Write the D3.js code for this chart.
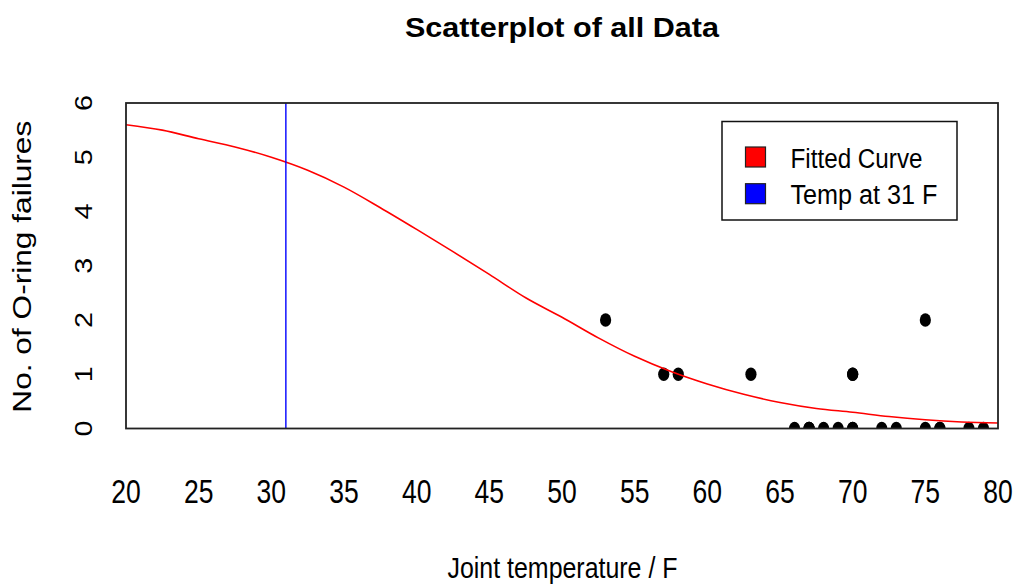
<!DOCTYPE html>
<html>
<head>
<meta charset="utf-8">
<script src="https://cdn.jsdelivr.net/npm/d3@7"></script>
<style>
  body { margin: 0; background: #ffffff; }
  text { font-family: "Liberation Sans", Arial, sans-serif; fill: #000; }
</style>
</head>
<body>
<div id="chart"></div>
<script>
// O-ring data (temperature F, number of failures)
var temps    = [66, 70, 69, 68, 67, 72, 73, 70, 57, 63, 70, 78, 67, 53, 67, 75, 70, 81, 76, 79, 75, 76, 58];
var failures = [ 0,  1,  0,  0,  0,  0,  0,  0,  1,  1,  1,  0,  0,  2,  0,  0,  0,  0,  0,  0,  2,  0,  1];

// fitted curve
var curveX = [20, 22.5, 25, 27.5, 30, 32.5, 35, 37.5, 40, 42.5, 45, 47.5, 50, 52.5, 55, 57.5, 60, 62.5, 65, 67.5, 70, 72.5, 75, 77.5, 80];
var curveY = [5.60, 5.50, 5.34, 5.19, 5.00, 4.76, 4.45, 4.07, 3.67, 3.26, 2.84, 2.41, 2.05, 1.67, 1.33, 1.05, 0.82, 0.63, 0.48, 0.37, 0.30, 0.22, 0.16, 0.12, 0.10];

var xTicks = [20, 25, 30, 35, 40, 45, 50, 55, 60, 65, 70, 75, 80];
var yTicks = [0, 1, 2, 3, 4, 5, 6];
var tempLine = 31;
var legendItems = [{label: "Fitted Curve", color: "#ff0000"}, {label: "Temp at 31 F", color: "#0000ff"}];

var w = 1016, h = 586;
var svg = d3.select("#chart").append("svg").attr("width", w).attr("height", h).style("background", "#ffffff");

var x = d3.scaleLinear().domain([20, 80]).range([126, 998]);
var y = d3.scaleLinear().domain([0, 6]).range([428.5, 103]);

svg.append("clipPath").attr("id", "plotclip")
    .append("rect").attr("x", x(20)).attr("y", y(6)).attr("width", x(80) - x(20)).attr("height", y(0) - y(6));

var plot = svg.append("g").attr("clip-path", "url(#plotclip)");

// points
plot.selectAll("ellipse").data(d3.zip(temps, failures)).enter()
    .append("ellipse")
    .attr("cx", function (d) { return x(d[0]); })
    .attr("cy", function (d) { return y(d[1]); })
    .attr("rx", 5.6)
    .attr("ry", 6.8)
    .attr("fill", "#000");

// fitted curve
var line = d3.line()
    .x(function (d) { return x(d[0]); })
    .y(function (d) { return y(d[1]); })
    .curve(d3.curveMonotoneX);
plot.append("path")
    .datum(d3.zip(curveX, curveY))
    .attr("d", line)
    .attr("fill", "none")
    .attr("stroke", "#ff0000")
    .attr("stroke-width", 1.6);

// vertical line at 31 F
plot.append("line")
    .attr("x1", x(tempLine)).attr("x2", x(tempLine))
    .attr("y1", y(6)).attr("y2", y(0))
    .attr("stroke", "#0000ff")
    .attr("stroke-width", 1.4);

// box
svg.append("rect")
    .attr("x", x(20)).attr("y", y(6))
    .attr("width", x(80) - x(20)).attr("height", y(0) - y(6))
    .attr("fill", "none").attr("stroke", "#222").attr("stroke-width", 1.8);

// x tick labels
svg.selectAll(".xt").data(xTicks).enter()
    .append("text").attr("class", "xt")
    .attr("x", function (d) { return x(d); })
    .attr("y", 503)
    .attr("text-anchor", "middle")
    .attr("font-size", 33)
    .attr("textLength", 29.5)
    .attr("lengthAdjust", "spacingAndGlyphs")
    .text(function (d) { return d; });

// y tick labels (rotated)
svg.selectAll(".yt").data(yTicks).enter()
    .append("text").attr("class", "yt")
    .attr("transform", function (d) { return "translate(91.5," + y(d) + ") rotate(-90)"; })
    .attr("text-anchor", "middle")
    .attr("font-size", 23.5)
    .attr("textLength", 16)
    .attr("lengthAdjust", "spacingAndGlyphs")
    .text(function (d) { return d; });

// titles
svg.append("text")
    .attr("x", 562).attr("y", 37)
    .attr("text-anchor", "middle")
    .attr("font-size", 28.5)
    .attr("font-weight", "bold")
    .attr("textLength", 314)
    .attr("lengthAdjust", "spacingAndGlyphs")
    .text("Scatterplot of all Data");

svg.append("text")
    .attr("x", 562.5).attr("y", 578)
    .attr("text-anchor", "middle")
    .attr("font-size", 30)
    .attr("textLength", 230)
    .attr("lengthAdjust", "spacingAndGlyphs")
    .text("Joint temperature / F");

svg.append("text")
    .attr("transform", "translate(31,266.7) rotate(-90)")
    .attr("text-anchor", "middle")
    .attr("font-size", 25.5)
    .attr("textLength", 292)
    .attr("lengthAdjust", "spacingAndGlyphs")
    .text("No. of O-ring failures");

// legend
var legend = svg.append("g");
legend.append("rect")
    .attr("x", 722).attr("y", 121.5).attr("width", 235).attr("height", 98.5)
    .attr("fill", "#fff").attr("stroke", "#111").attr("stroke-width", 1.5);
var rows = legend.selectAll(".lg").data(legendItems).enter()
    .append("g").attr("class", "lg")
    .attr("transform", function (d, i) { return "translate(0," + (i * 36.7) + ")"; });
rows.append("rect")
    .attr("x", 745.5).attr("y", 147).attr("width", 20).attr("height", 20)
    .attr("fill", function (d) { return d.color; })
    .attr("stroke", "#222").attr("stroke-width", 1.2);
rows.append("text")
    .attr("x", 790.5).attr("y", 167.5)
    .attr("font-size", 28.4)
    .attr("textLength", function (d, i) { return i == 0 ? 132 : 147; })
    .attr("lengthAdjust", "spacingAndGlyphs")
    .text(function (d) { return d.label; });
</script>
</body>
</html>
